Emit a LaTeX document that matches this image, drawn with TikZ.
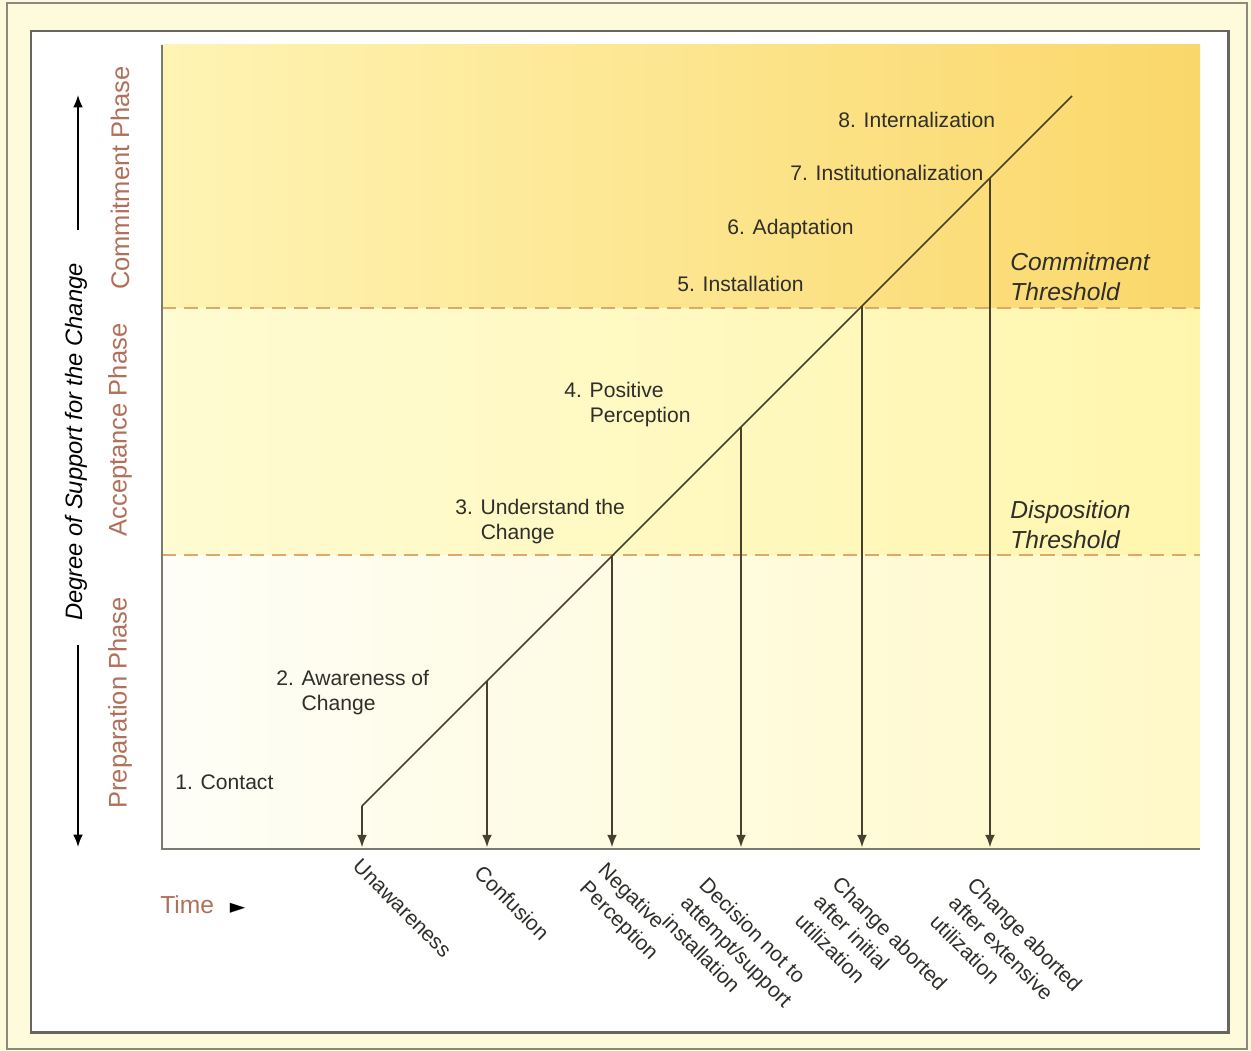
\documentclass[tikz,border=0pt]{standalone}
\usepackage{fontspec}
\setmainfont{Liberation Sans}
\newfontfamily\symbolfont{DejaVu Sans}
\usetikzlibrary{arrows.meta}

\definecolor{creamback}{HTML}{FEFBDC}
\definecolor{framegray}{HTML}{8A8A80}
\definecolor{innergray}{HTML}{66665C}
\definecolor{axisgray}{HTML}{7A7A72}
\definecolor{topleft}{HTML}{FFF4B4}
\definecolor{topright}{HTML}{FAD76A}
\definecolor{midleft}{HTML}{FFFBD2}
\definecolor{midright}{HTML}{FFF6AE}
\definecolor{botleft}{HTML}{FEFEF7}
\definecolor{botright}{HTML}{FFF9C8}
\definecolor{dashorange}{HTML}{DDA868}
\definecolor{phasebrown}{HTML}{B0705A}
\definecolor{linedark}{HTML}{45412E}
\definecolor{textdark}{HTML}{2E2E2A}

\tikzset{
  stagelabel/.style={inner sep=0pt, text=textdark, font=\fontsize{12}{14.2}\selectfont, align=left},
  outcomelabel/.style={inner sep=0pt, text=textdark, font=\fontsize{12}{15}\selectfont, align=left, rotate=-45, anchor=north west},
  phaselabel/.style={inner sep=0pt, text=phasebrown, font=\fontsize{14.5}{17}\selectfont, rotate=90},
  timelabel/.style={inner sep=0pt, text=phasebrown, font=\fontsize{14}{17}\selectfont},
  thresholdlabel/.style={inner sep=0pt, text=textdark, font=\fontsize{14}{17}\selectfont\itshape, align=left, anchor=north west},
  thresholdline/.style={dashorange, line width=1.1pt, dash pattern=on 8pt off 4.5pt},
  dropline/.style={linedark, line width=0.9pt, -{Latex[length=7pt,width=5.5pt]}, shorten >=1pt},
  axisarrow/.style={black, line width=0.9pt, -{Latex[length=7pt,width=5.5pt]}}
}

\begin{document}
\begin{tikzpicture}[x=0.02cm, y=-0.02cm]
			%%%%% FRAME %%%%%
			\useasboundingbox (0,0) rectangle (1251,1051);
			\fill[creamback] (0,0) rectangle (1251,1051);
			\draw[framegray, line width=1.2pt] (7,3) rectangle (1247,1049);
			\draw[innergray, fill=white, line width=1.7pt] (31,31) rectangle (1228,1032);
			
			%%%%% PHASE BANDS %%%%%
			\shade[left color=topleft, right color=topright] (162,45) rectangle (1200,308);
			\shade[left color=midleft, right color=midright] (162,308) rectangle (1200,555);
			\shade[left color=botleft, right color=botright] (162,555) rectangle (1200,849);
			
			\draw[thresholdline] (162,308) -- (1200,308);
			\draw[thresholdline] (162,555) -- (1200,555);
			
			\draw[axisgray, line width=1.6pt] (162,45) -- (162,849) -- (1200,849);
			
			%%%%% STAGES %%%%%
			\coordinate (c0) at (362,806);
			\coordinate (c1) at (487,681);
			\coordinate (c2) at (612,556);
			\coordinate (c3) at (741,427);
			\coordinate (c4) at (862,306);
			\coordinate (c5) at (990,178);
			\coordinate (ctop) at (1072,96);
			\draw[linedark, line width=0.9pt] (c0) -- (ctop);
			
			\coordinate (a0) at (362,849);
			\coordinate (a1) at (487,849);
			\coordinate (a2) at (612,849);
			\coordinate (a3) at (741,849);
			\coordinate (a4) at (862,849);
			\coordinate (a5) at (990,849);
			\foreach \i in {0,...,5}
				\draw[dropline] (c\i) -- (a\i);
			
			\node[stagelabel, anchor=west] (contact) at (175,782) {1. Contact};
			\node[stagelabel, anchor=north west] (awareness) at (276,670) {2. Awareness of\\\phantom{2. }Change};
			\node[stagelabel, anchor=north west] (understand) at (455,499) {3. Understand the\\\phantom{3. }Change};
			\node[stagelabel, anchor=north west] (positive) at (564,382) {4. Positive\\\phantom{4. }Perception};
			\node[stagelabel, anchor=west] (installation) at (677,284) {5. Installation};
			\node[stagelabel, anchor=west] (adaptation) at (727,229) {6. Adaptation};
			\node[stagelabel, anchor=west] (institution) at (790,173) {7. Institutionalization};
			\node[stagelabel, anchor=west] (internal) at (838,120) {8. Internalization};
			
			\node[thresholdlabel] (committhr) at (1010,252) {Commitment\\Threshold};
			\node[thresholdlabel] (disposthr) at (1010,500) {Disposition\\Threshold};
			
			%%%%% OUTCOMES %%%%%
			\node[outcomelabel] (unaware) at (362,857) {Unawareness};
			\node[outcomelabel] (confusion) at (484,863) {Confusion};
			\node[outcomelabel] (negative) at (608,860) {Negative\\Perception};
			\node[outcomelabel] (decision) at (709,875) {Decision not to\\attempt/support\\installation};
			\node[outcomelabel] (abortinit) at (842,874) {Change aborted\\after initial\\utilization};
			\node[outcomelabel] (abortext) at (977,875) {Change aborted\\after extensive\\utilization};
			
			%%%%% AXES %%%%%
			\node[phaselabel] (commitment) at (120,178) {Commitment Phase};
			\node[phaselabel] (acceptance) at (120,430) {Acceptance Phase};
			\node[phaselabel] (preparation) at (120,703) {Preparation Phase};
			
			\node[inner sep=0pt, rotate=90, font=\fontsize{13.5}{16}\selectfont\itshape] (degree) at (76,442) {Degree of Support for the Change};
			\coordinate (upstart) at (78,230);
			\coordinate (upend) at (78,95);
			\coordinate (downstart) at (78,645);
			\coordinate (downend) at (78,847);
			\draw[axisarrow] (upstart) -- (upend);
			\draw[axisarrow] (downstart) -- (downend);
			
			\node[timelabel, anchor=west] (time) at (160,905) {Time\hspace{9pt}{\color{black}\fontsize{11.5}{11.5}\symbolfont ►}};
			
			%%%%% END %%%%%
\end{tikzpicture}
\end{document}
